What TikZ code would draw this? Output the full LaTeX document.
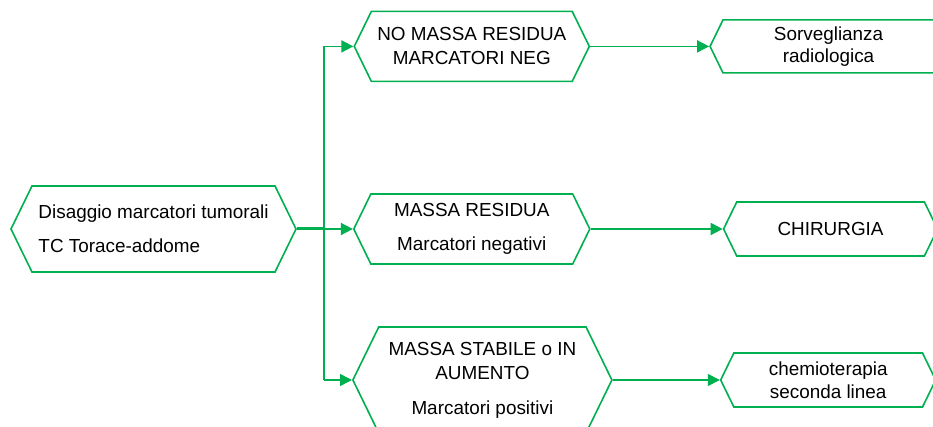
\documentclass[tikz,border=0pt]{standalone}
\usepackage{fontspec}
\setmainfont{Liberation Sans}
\usetikzlibrary{positioning,shapes.symbols,arrows.meta}

\definecolor{flowgreen}{RGB}{0,176,80}

\tikzset{
  hexbox/.style={signal, signal to=west and east, signal pointer angle=128,
    draw=flowgreen, line width=1.6pt, inner sep=0pt, align=center,
    font=\fontsize{18.9}{24}\selectfont},
  flowline/.style={draw=flowgreen, line width=1.6pt},
  flowarrow/.style={flowline, -{Triangle[length=12pt,width=12pt]}}
}

\begin{document}
\begin{tikzpicture}[x=1pt,y=1pt]
\path[use as bounding box, clip] (0,0) rectangle (933,-427);

%% start node
\node[hexbox, minimum width=285pt, minimum height=86pt, align=left](input) at (153.5,-229)
  {Disaggio marcatori tumorali\\[10pt]TC Torace-addome};

%% outcomes after therapy
\node[hexbox, minimum width=236pt, minimum height=70pt, right=56pt of input](resid)
  {MASSA RESIDUA\\[10pt]Marcatori negativi};
\node[hexbox, minimum width=235pt, minimum height=70pt, above=111pt of resid](nomass)
  {NO MASSA RESIDUA\\MARCATORI NEG};
\node[hexbox, minimum width=259pt, minimum height=106pt, anchor=west] (stable) at (352,-380)
  {MASSA STABILE o IN\\AUMENTO\\[11pt]Marcatori positivi};

%% follow up
\node[hexbox, minimum width=237pt, minimum height=53pt, right=119pt of nomass](sorv)
  {Sorveglianza\\[-2pt]radiologica};
\node[hexbox, minimum width=214pt, minimum height=54pt, right=132pt of resid](chir)
  {CHIRURGIA};
\node[hexbox, minimum width=215pt, minimum height=54pt, right=107pt of stable](chemo)
  {chemioterapia\\[-1pt]seconda linea};

% split point
\coordinate (split) at (324,-229);

\draw[flowline, line width=3pt] (input.east) -- (split);
\draw[flowline] (split) -- (split |- nomass.west);
\draw[flowline] (split) -- (split |- stable.west);
\draw[flowarrow] (split |- nomass.west) -- (nomass.west);
\draw[flowarrow] (split) -- (resid.west);
\draw[flowarrow] (split |- stable.west) -- (stable.west);

\draw[flowarrow] (nomass.east) -- (sorv.west);
\draw[flowarrow] (resid.east) -- (chir.west);
\draw[flowarrow] (stable.east) -- (chemo.west);

\end{tikzpicture}
\end{document}
